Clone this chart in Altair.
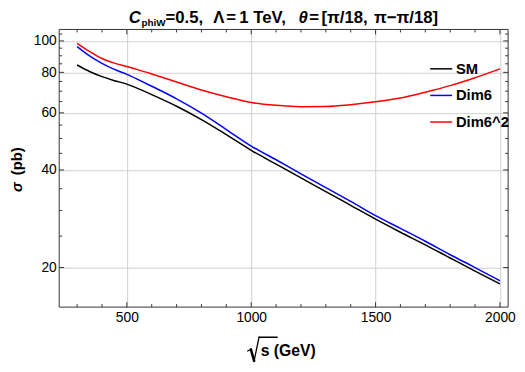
import altair as alt
import pandas as pd

# ---------------- data ----------------
sqrt_s = [300, 350, 400, 450, 500, 550, 600, 700, 800, 900, 1000,
          1100, 1200, 1300, 1400, 1500, 1600, 1700, 1800, 1900, 2000]
sm = [84.3, 80.5, 77.6, 75.4, 73.6, 71.0, 68.3, 62.9, 57.2, 51.4, 46.0,
      41.7, 37.8, 34.3, 31.1, 28.2, 25.7, 23.5, 21.4, 19.5, 17.8]
dim6 = [96.1, 90.0, 85.3, 81.7, 78.9, 75.7, 72.5, 66.3, 59.9, 53.3, 47.4,
        43.0, 38.9, 35.3, 32.0, 28.9, 26.4, 24.1, 21.9, 20.0, 18.2]
dim6sq = [98.3, 92.8, 88.3, 85.4, 83.4, 81.3, 79.1, 74.7, 70.6, 67.3, 64.6,
          63.3, 62.7, 62.8, 63.6, 64.9, 66.7, 69.5, 72.8, 77.0, 82.0]
series_names = ["SM", "Dim6", "Dim6^2"]
series_colors = ["#000000", "#0000ff", "#ff0000"]

x_major = [500, 1000, 1500, 2000]
x_minor = [300, 400, 600, 700, 800, 900, 1100, 1200, 1300, 1400,
           1600, 1700, 1800, 1900]
y_major = [20, 40, 60, 80, 100]
y_minor = [25, 30, 35, 45, 50, 55, 65, 70, 75, 85, 90, 95, 105]
x_domain = [228, 2033]
y_domain = [15.1, 108.5]

title_pieces = ["C", "phiW", "=0.5,", "Λ", "=", "1 TeV,", "θ", "=", "[π/18,", "π−π/18]"]
xtitle_text = "s (GeV)"
ytitle_pieces = ["σ", "(pb)"]

# ---------------- build ----------------
rows = []
for name, vals in zip(series_names, [sm, dim6, dim6sq]):
    for xv, yv in zip(sqrt_s, vals):
        rows.append({"x": xv, "y": yv, "series": name})
df = pd.DataFrame(rows)

W, H = 456, 282
FONT = "Liberation Sans"
FRAME = "#333333"
GRID = "#d0d0d0"

xscale = alt.Scale(domain=x_domain, nice=False, zero=False)
yscale = alt.Scale(type="log", domain=y_domain, nice=False)

xaxis = alt.Axis(values=x_major, ticks=False, domain=False, grid=True,
                 gridColor=GRID, gridWidth=1, labelFont=FONT, labelFontSize=14,
                 labelColor="black", labelPadding=4, labelFlush=False, title=None,
                 format="d")
yaxis = alt.Axis(values=y_major, ticks=False, domain=False, grid=True,
                 gridColor=GRID, gridWidth=1, labelFont=FONT, labelFontSize=14,
                 labelColor="black", labelPadding=3, labelFlush=False, title=None,
                 format="d")

lines = alt.Chart(df).mark_line(strokeWidth=1.5, interpolate="monotone").encode(
    x=alt.X("x:Q", scale=xscale, axis=xaxis),
    y=alt.Y("y:Q", scale=yscale, axis=yaxis),
    color=alt.Color("series:N",
                    scale=alt.Scale(domain=series_names, range=series_colors),
                    sort=series_names,
                    legend=alt.Legend(orient="none", legendX=376, legendY=28,
                                      title=None, symbolType="stroke",
                                      symbolSize=500, symbolStrokeWidth=1.5,
                                      labelFont=FONT, labelFontSize=15,
                                      labelFontWeight="bold", labelColor="black",
                                      labelOffset=3, rowPadding=7, padding=0)),
    order=alt.Order("x:Q"),
)


def ticks(vals, side, length):
    d = pd.DataFrame({"x": vals, "y": vals})
    m = alt.Chart(d).mark_rule(color=FRAME, strokeWidth=1)
    if side in ("bottom", "top"):
        xe = alt.X("x:Q", scale=xscale, axis=xaxis)
        if side == "bottom":
            return m.encode(x=xe, y=alt.value(H), y2=alt.value(H - length))
        return m.encode(x=xe, y=alt.value(0), y2=alt.value(length))
    ye = alt.Y("y:Q", scale=yscale, axis=yaxis)
    if side == "left":
        return m.encode(y=ye, x=alt.value(0), x2=alt.value(length))
    return m.encode(y=ye, x=alt.value(W), x2=alt.value(W - length))


tick_layers = []
for side in ("bottom", "top"):
    tick_layers.append(ticks(x_major, side, 5))
    tick_layers.append(ticks(x_minor, side, 3))
for side in ("left", "right"):
    tick_layers.append(ticks(y_major, side, 5))
    tick_layers.append(ticks(y_minor, side, 3))

one = pd.DataFrame({"a": [0]})

frame = alt.Chart(one).mark_rect(fill=None, fillOpacity=0, stroke=FRAME,
                                 strokeWidth=1).encode(
    x=alt.value(0), x2=alt.value(W), y=alt.value(0), y2=alt.value(H))


def txt(s, x, y, size, style="normal", weight="bold", font=FONT, angle=0):
    return alt.Chart(one).mark_text(
        text=s, font=font, fontSize=size, fontWeight=weight, fontStyle=style,
        align="left", baseline="alphabetic", color="black", angle=angle
    ).encode(x=alt.value(x), y=alt.value(y))


def seg(x1, y1, x2, y2, w):
    return alt.Chart(one).mark_rule(color="black", strokeWidth=w,
                                    strokeCap="round").encode(
        x=alt.value(x1), y=alt.value(y1), x2=alt.value(x2), y2=alt.value(y2))


# title pieces (positions relative to plot origin)
TB = -7.0
title_layers = [
    txt(title_pieces[0], 70.7, TB, 17, style="italic"),
    txt(title_pieces[1], 83.6, TB + 3.2, 10),
    txt(title_pieces[2], 108.0, TB, 17),
    txt(title_pieces[3], 156.4, TB, 17),
    txt(title_pieces[4], 169.7, TB, 17),
    txt(title_pieces[5], 183.0, TB, 17),
    txt(title_pieces[6], 243.0, TB, 17, style="italic"),
    txt(title_pieces[7], 254.0, TB, 17),
    txt(title_pieces[8], 266.4, TB, 17),
    txt(title_pieces[9], 319.7, TB, 17),
]

# x axis title: drawn radical + text
xt_layers = [
    seg(191.4, 326.6, 194.7, 325.0, 1.3),
    seg(194.7, 325.0, 198.0, 336.6, 2.6),
    seg(198.0, 336.6, 203.0, 312.6, 1.3),
    seg(203.0, 312.6, 221.4, 312.6, 1.5),
    txt(xtitle_text, 204.7, 331.3, 16),
]

# y axis title, rotated
yt_layers = [
    txt(ytitle_pieces[0], -37.6, 165, 15, style="italic", angle=270),
    txt(ytitle_pieces[1], -37.6, 148, 15, angle=270),
]

chart = alt.layer(
    lines, *tick_layers, frame, *title_layers, *xt_layers, *yt_layers
).properties(
    width=W, height=H,
    autosize=alt.AutoSizeParams(type="none"),
    padding={"left": 52, "top": 19, "right": 9, "bottom": 55},
).configure_view(stroke=None)

chart.save("out.html", embed_options={"renderer": "svg", "actions": False})
